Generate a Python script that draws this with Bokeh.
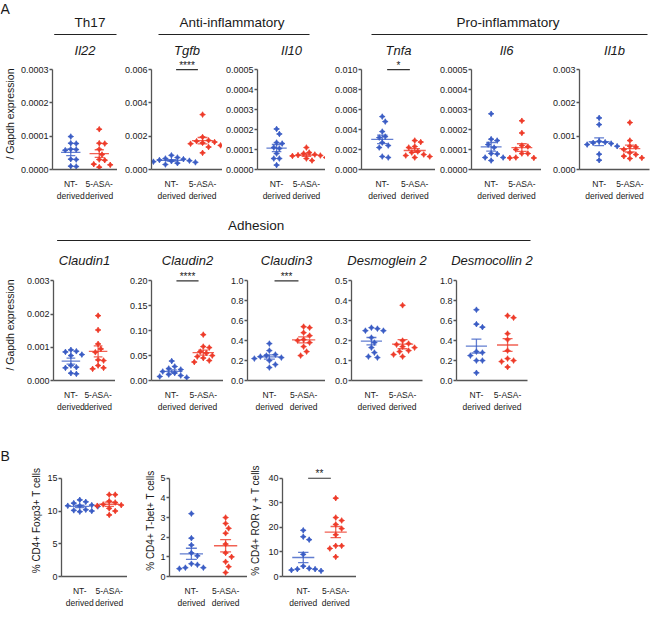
import numpy as np
from bokeh.plotting import figure
from bokeh.layouts import column, row
from bokeh.models import FixedTicker, PrintfTickFormatter, Range1d, Spacer
from bokeh.embed import file_html
from bokeh.resources import INLINE
from bokeh.core.properties import value

FONT = "Liberation Sans"
BLUE = "#3a5cc4"
RED = "#ee3a28"
AXIS = "#555555"
TXT = "#1a1a1a"

groups = ["NT-\nderived", "5-ASA-\nderived"]

# ---- A: cytokines (relative expression / Gapdh) ----
il22_nt = [0.000099, 0.000079, 0.000078, 0.000061, 0.000060, 0.000058, 0.000031, 0.000030, 0.000010, 0.000009]
il22_asa = [0.000121, 0.000079, 0.000078, 0.000061, 0.000045, 0.000030, 0.000028, 0.000016, 0.000014, 0.000007]
tgfb_nt = [0.00085, 0.00072, 0.00066, 0.00062, 0.00057, 0.00053, 0.00050, 0.00047, 0.00043, 0.00038, 0.00030]
tgfb_asa = [0.00330, 0.00195, 0.00175, 0.00170, 0.00165, 0.00160, 0.00155, 0.00145, 0.00135, 0.00100]
il10_nt = [0.000203, 0.000178, 0.000135, 0.000130, 0.000110, 0.000105, 0.000080, 0.000055, 0.000055, 0.000022]
il10_asa = [0.000110, 0.000085, 0.000080, 0.000075, 0.000072, 0.000070, 0.000068, 0.000060, 0.000055, 0.000045]
tnfa_nt = [0.00530, 0.00480, 0.00380, 0.00330, 0.00320, 0.00270, 0.00240, 0.00220, 0.00130, 0.00120]
tnfa_asa = [0.00290, 0.00275, 0.00230, 0.00220, 0.00180, 0.00170, 0.00150, 0.00140, 0.00130, 0.00120]
il6_nt = [0.000279, 0.000152, 0.000145, 0.000125, 0.000110, 0.000080, 0.000078, 0.000060, 0.000060, 0.000045]
il6_asa = [0.000244, 0.000183, 0.000120, 0.000115, 0.000100, 0.000080, 0.000080, 0.000060, 0.000058, 0.000058]
il1b_nt = [0.00155, 0.00135, 0.00085, 0.00082, 0.00080, 0.00078, 0.00075, 0.00070, 0.00046, 0.00028]
il1b_asa = [0.00141, 0.00087, 0.00070, 0.00068, 0.00060, 0.00050, 0.00045, 0.00040, 0.00035, 0.00033]

# ---- A: adhesion ----
cldn1_nt = [0.00092, 0.00088, 0.00086, 0.00078, 0.00075, 0.00045, 0.00040, 0.00038, 0.00022, 0.00020]
cldn1_asa = [0.00195, 0.00152, 0.00110, 0.00095, 0.00085, 0.00062, 0.00060, 0.00045, 0.00038, 0.00035]
cldn2_nt = [0.039, 0.028, 0.024, 0.022, 0.018, 0.015, 0.012, 0.010, 0.008, 0.006]
cldn2_asa = [0.092, 0.068, 0.066, 0.058, 0.055, 0.050, 0.048, 0.045, 0.040, 0.037]
cldn3_nt = [0.37, 0.30, 0.26, 0.25, 0.24, 0.23, 0.22, 0.20, 0.16, 0.13]
cldn3_asa = [0.54, 0.53, 0.48, 0.45, 0.41, 0.40, 0.38, 0.34, 0.29, 0.25]
dsg2_nt = [0.265, 0.260, 0.250, 0.250, 0.215, 0.190, 0.165, 0.140, 0.120, 0.115]
dsg2_asa = [0.377, 0.200, 0.185, 0.180, 0.170, 0.165, 0.150, 0.145, 0.130, 0.120]
dsc2_nt = [0.71, 0.565, 0.535, 0.29, 0.28, 0.25, 0.20, 0.20, 0.077]
dsc2_asa = [0.65, 0.63, 0.47, 0.41, 0.30, 0.22, 0.20, 0.19, 0.135]

# ---- B: T cell subsets (%) ----
foxp3_nt = [11.7, 11.4, 11.2, 10.9, 10.8, 10.8, 10.7, 10.2, 10.1, 10.0, 9.9]
foxp3_asa = [12.5, 12.5, 11.5, 11.3, 11.0, 10.9, 10.8, 10.4, 10.0, 9.4]
tbet_nt = [3.2, 1.95, 1.6, 1.2, 1.05, 0.65, 0.6, 0.45, 0.45, 0.4]
tbet_asa = [3.0, 2.7, 2.45, 2.2, 1.65, 1.2, 1.0, 0.75, 0.5, 0.2]
ror_nt = [18.8, 16.2, 15.0, 9.0, 4.2, 3.3, 3.0, 3.0, 2.6, 2.3]
ror_asa = [31.9, 24.0, 22.8, 21.2, 19.5, 17.0, 12.5, 12.5, 11.4, 8.0]

# tick values
t_il22 = [0, 0.0001, 0.0002, 0.0003]
t_tgfb = [0, 0.002, 0.004, 0.006]
t_il10 = [0, 0.0001, 0.0002, 0.0003, 0.0004, 0.0005]
t_tnfa = [0, 0.002, 0.004, 0.006, 0.008, 0.010]
t_il6 = [0, 0.0001, 0.0002, 0.0003, 0.0004, 0.0005]
t_il1b = [0, 0.001, 0.002, 0.003]
t_cldn1 = [0, 0.001, 0.002, 0.003]
t_cldn2 = [0, 0.05, 0.10, 0.15, 0.20]
t_cldn3 = [0, 0.2, 0.4, 0.6, 0.8, 1.0]
t_dsg2 = [0, 0.1, 0.2, 0.3, 0.4, 0.5]
t_dsc2 = [0, 0.2, 0.4, 0.6, 0.8, 1.0]
t_foxp3 = [0, 5, 10, 15]
t_tbet = [0, 1, 2, 3, 4, 5]
t_ror = [0, 10, 20, 30, 40]

XR = (-0.64, 1.64)


def swarm(vals, ppx, ppy, step=3.0, diam=6.0):
    order = sorted(range(len(vals)), key=lambda i: -vals[i])
    placed, offs = [], [0.0] * len(vals)
    cands = [0]
    for j in range(1, 20):
        cands += [j, -j]
    for i in order:
        py = vals[i] * ppy
        for c in cands:
            px = c * step
            if all((px - qx) ** 2 + (py - qy) ** 2 >= diam ** 2 for qx, qy in placed):
                placed.append((px, py))
                offs[i] = px / ppx
                break
    return offs


def panel(title, nt, asa, ticks, fmt, L, fw, R, tb, fh, dh, bb, sig=None,
          ylabel=None, yls=3, yl_size="10.5px", tstand=1, xr=XR):
    top = ticks[-1]
    kw = {}
    if title:
        kw["title"] = title
    p = figure(width=L + fw + R, height=tb + fh + bb,
               x_range=Range1d(*xr), y_range=Range1d(0, top * fh / dh),
               output_backend="svg", toolbar_location=None,
               min_border_left=L, min_border_right=R,
               min_border_top=tb, min_border_bottom=bb, **kw)
    if title:
        p.title.text_font = FONT
        p.title.text_font_size = "13px"
        p.title.text_font_style = "italic"
        p.title.align = "center"
        p.title.standoff = tstand
        p.title.text_color = TXT
    p.xgrid.visible = False
    p.ygrid.visible = False
    p.outline_line_color = None
    xa = p.xaxis[0]
    ya = p.yaxis[0]
    xa.ticker = FixedTicker(ticks=[0, 1])
    xa.major_label_overrides = {0: groups[0], 1: groups[1]}
    xa.major_tick_line_color = None
    xa.minor_tick_line_color = None
    xa.axis_line_color = AXIS
    xa.axis_line_width = 1.3
    xa.major_label_text_font = FONT
    xa.major_label_text_font_size = "8.5px"
    xa.major_label_text_color = TXT
    xa.major_label_standoff = 3
    ya.ticker = FixedTicker(ticks=ticks)
    ya.formatter = PrintfTickFormatter(format=fmt)
    ya.bounds = (0, top)
    ya.major_tick_out = 3
    ya.major_tick_in = 0
    ya.minor_tick_line_color = None
    ya.major_tick_line_color = AXIS
    ya.major_tick_line_width = 1.3
    ya.axis_line_color = AXIS
    ya.axis_line_width = 1.3
    ya.major_label_text_font = FONT
    ya.major_label_text_font_size = "9px"
    ya.major_label_text_color = TXT
    ya.major_label_standoff = 1
    if ylabel:
        ya.axis_label = ylabel
        ya.axis_label_text_font = FONT
        ya.axis_label_text_font_size = yl_size
        ya.axis_label_text_font_style = "normal"
        ya.axis_label_text_color = TXT
        ya.axis_label_standoff = yls
    ppx = fw / (xr[1] - xr[0])
    ppy = dh / top
    for k, (vals, color) in enumerate([(nt, BLUE), (asa, RED)]):
        offs = swarm(vals, ppx, ppy)
        p.scatter([k + o for o in offs], vals, marker="square_pin", size=4,
                  angle=0.785398, fill_color=color, line_color=color, line_width=0.8)
        m = float(np.mean(vals))
        se = float(np.std(vals, ddof=1) / np.sqrt(len(vals)))
        p.segment(x0=[k - 0.34, k, k - 0.16, k - 0.16],
                  y0=[m, m - se, m - se, m + se],
                  x1=[k + 0.34, k, k + 0.16, k + 0.16],
                  y1=[m, m + se, m - se, m + se],
                  line_color=color, line_width=1.3, line_alpha=0.8)
    if sig:
        p.segment(x0=[0.15], y0=[top], x1=[0.85], y1=[top],
                  line_color="#333333", line_width=1.2)
        p.text(x=[0.5], y=[top], text=[sig], text_align="center",
               text_baseline="bottom", text_font=value(FONT),
               text_font_size="10px", text_color=TXT, y_offset=1)
    return p


def header(h, w=652):
    p = figure(width=w, height=h, x_range=Range1d(0, w), y_range=Range1d(h, 0),
               output_backend="svg", toolbar_location=None, min_border=0,
               x_axis_location=None, y_axis_location=None)
    p.grid.visible = False
    p.outline_line_color = None
    return p


def htext(p, x, y, txt, size="13.5px", align="center", style="normal"):
    p.text(x=[x], y=[y], text=[txt], text_align=align, text_baseline="middle",
           text_font=value(FONT), text_font_size=size, text_color=TXT,
           text_font_style=style)


def hline(p, x0, x1, y):
    p.segment(x0=[x0], y0=[y], x1=[x1], y1=[y], line_color="#222222", line_width=1.1)


GAP = "/ Gapdh expression"

# header A
hA = header(39)
htext(hA, 0, 8, "A", size="14px", align="left")
htext(hA, 89.5, 22, "Th17")
htext(hA, 231.6, 22, "Anti-inflammatory")
htext(hA, 507.5, 22, "Pro-inflammatory")
hline(hA, 53.7, 116, 34)
hline(hA, 158, 309, 34)
hline(hA, 371, 647, 34)

# row A
A = dict(tb=19, fh=119, dh=107, bb=26)
rowA = [
    panel("Il22", il22_nt, il22_asa, t_il22, "%.4f", 46, 71, 0, ylabel=GAP, yls=2, **A),
    panel("Tgfb", tgfb_nt, tgfb_asa, t_tgfb, "%.3f", 34, 71, 0, sig="****", **A),
    panel("Il10", il10_nt, il10_asa, t_il10, "%.4f", 30, 73, 0, **A),
    panel("Tnfa", tnfa_nt, tnfa_asa, t_tnfa, "%.3f", 36, 74, 0, sig="*", **A),
    panel("Il6", il6_nt, il6_asa, t_il6, "%.4f", 36, 70, 0, **A),
    panel("Il1b", il1b_nt, il1b_asa, t_il1b, "%.3f", 38, 70, 3, **A),
]

# header adhesion
hAd = header(41)
htext(hAd, 255.7, 22, "Adhesion")
hline(hAd, 56.6, 530, 37)

B = dict(tb=25, fh=118, dh=106, bb=27, tstand=3)
rowB = [
    panel("Claudin1", cldn1_nt, cldn1_asa, t_cldn1, "%.3f", 47, 68, 0, ylabel=GAP, yls=8, **B),
    panel("Claudin2", cldn2_nt, cldn2_asa, t_cldn2, "%.2f", 36, 72, 0, sig="****", **B),
    panel("Claudin3", cldn3_nt, cldn3_asa, t_cldn3, "%.1f", 24, 78, 0, sig="***", **B),
    panel("Desmoglein 2", dsg2_nt, dsg2_asa, t_dsg2, "%.1f", 26, 71, 8, **B),
    panel("Desmocollin 2", dsc2_nt, dsc2_asa, t_dsc2, "%.1f", 26, 71, 8, **B),
    Spacer(width=117, height=170),
]

hB = header(48)
htext(hB, 0, 41, "B", size="14px", align="left")

C = dict(tb=2, fh=122, dh=107, bb=24)
rowC = [
    panel(None, foxp3_nt, foxp3_asa, t_foxp3, "%d", 61, 66, 0,
          ylabel="% CD4+ Foxp3+ T cells", yls=2, yl_size="10px",
          xr=(-0.62, 1.62), **C),
    panel(None, tbet_nt, tbet_asa, t_tbet, "%d", 42, 78, 0,
          ylabel="% CD4+ T-bet+ T cells", yls=1, yl_size="10px", **C),
    panel(None, ror_nt, ror_asa, t_ror, "%d", 34, 75, 0, sig="**",
          ylabel="% CD4+ ROR \u03b3 + T cells", yls=4, yl_size="10px", **C),
    Spacer(width=296, height=148),
]

layout = column(hA, row(*rowA), hAd, row(*rowB), hB, row(*rowC))

open("out.html", "w").write(file_html(layout, INLINE))
